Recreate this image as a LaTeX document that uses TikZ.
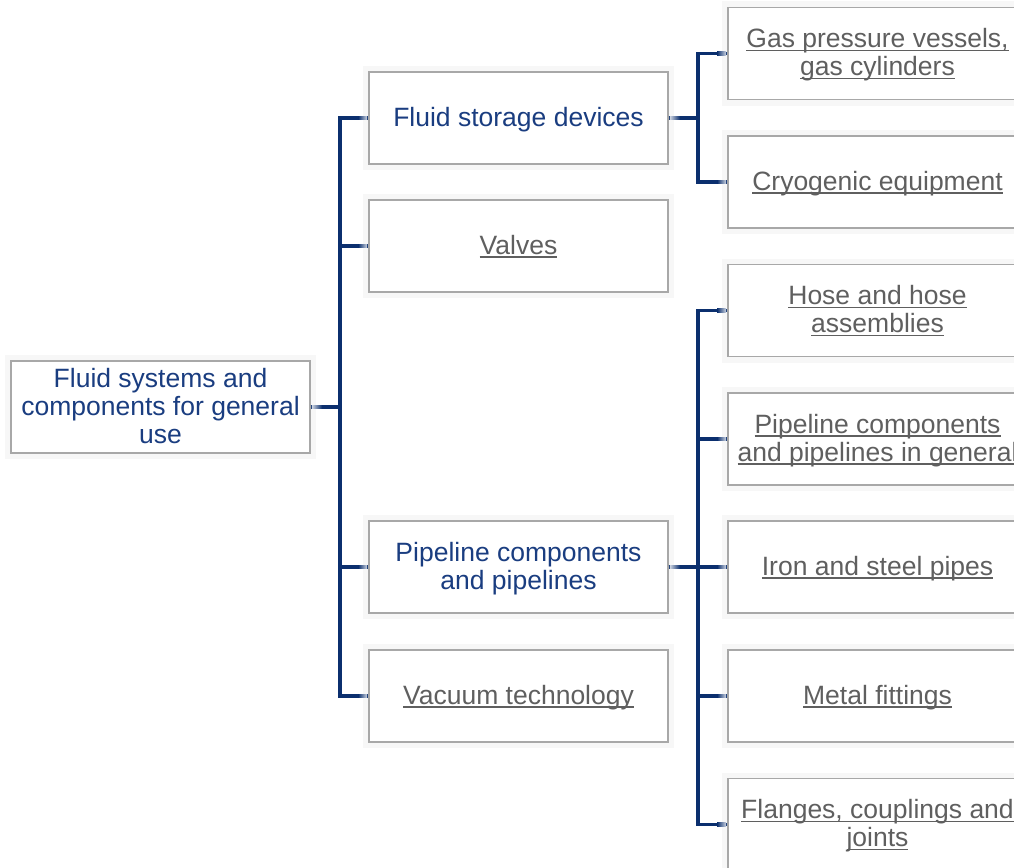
\documentclass[tikz,border=0pt]{standalone}
\usepackage{fontspec}
\setmainfont{Liberation Sans}
\definecolor{navy}{HTML}{0B2F6E}
\definecolor{tblue}{HTML}{1A3D80}
\definecolor{tgrey}{HTML}{5F5F5F}
\definecolor{bordergrey}{HTML}{A8A8A8}
\newcommand{\ulx}[1]{\setbox0\hbox{#1}\rlap{\rule[-3.6pt]{\wd0}{1.3pt}}\box0}
\newcommand{\tx}[1]{\raisebox{-2.5pt}[\height][\depth]{\begin{tabular}{@{}c@{}}#1\end{tabular}}}
\tikzset{
  box/.style={rectangle, draw=bordergrey, line width=1.8pt, fill=white,
    preaction={draw=black!3, line width=12pt},
    minimum width=299pt, minimum height=92pt, inner sep=0pt, align=center,
    font=\fontsize{26.5}{28}\selectfont},
  bluebox/.style={box, text=tblue},
  greybox/.style={box, text=tgrey},
  conn/.style={draw=navy, line width=3.5pt, line join=miter},
  fadein/.style={left color=navy, right color=navy!20},
  fadeout/.style={left color=navy!20, right color=navy},
}
\begin{document}
\begin{tikzpicture}[x=1pt,y=-1pt]
\clip (0,0) rectangle (1014,867);
\fill[white] (0,0) rectangle (1014,867);
% nodes
\node[bluebox] (root) at (160.5,407) {\tx{Fluid systems and\\components for general\\use}};
\node[bluebox] (fsd) at (518.5,118) {\tx{Fluid storage devices}};
\node[greybox] (valves) at (518.5,246) {\tx{\ulx{Valves}}};
\node[bluebox] (pcp) at (518.5,567) {\tx{Pipeline components\\and pipelines}};
\node[greybox] (vac) at (518.5,696) {\tx{\ulx{Vacuum technology}}};
\node[greybox] (gas) at (877.5,53.5) {\tx{\ulx{Gas pressure vessels,}\\\ulx{gas cylinders}}};
\node[greybox] (cryo) at (877.5,182) {\tx{\ulx{Cryogenic equipment}}};
\node[greybox] (hose) at (877.5,310.5) {\tx{\ulx{Hose and hose}\\\ulx{assemblies}}};
\node[greybox] (pcg) at (877.5,439) {\tx{\ulx{Pipeline components}\\\ulx{and pipelines in general}}};
\node[greybox] (iron) at (877.5,567) {\tx{\ulx{Iron and steel pipes}}};
\node[greybox] (metal) at (877.5,696) {\tx{\ulx{Metal fittings}}};
\node[greybox] (flange) at (877.5,824.5) {\tx{\ulx{Flanges, couplings and}\\\ulx{joints}}};
% connectors level 1
\foreach \c in {fsd,valves,pcp,vac}{
  \draw[conn] (root.east) -- ([xshift=29pt]root.east) |- (\c.west);
  \shade[fadein] ([xshift=-10pt,yshift=-1.75pt]\c.west) rectangle ([xshift=-0.9pt,yshift=1.75pt]\c.west);
}
\shade[fadeout] ([xshift=0.9pt,yshift=-1.75pt]root.east) rectangle ([xshift=11pt,yshift=1.75pt]root.east);
% connectors level 2
\foreach \c in {gas,cryo}{
  \draw[conn] (fsd.east) -- ([xshift=29pt]fsd.east) |- (\c.west);
  \shade[fadein] ([xshift=-10pt,yshift=-1.75pt]\c.west) rectangle ([xshift=-0.9pt,yshift=1.75pt]\c.west);
}
\shade[fadeout] ([xshift=0.9pt,yshift=-1.75pt]fsd.east) rectangle ([xshift=11pt,yshift=1.75pt]fsd.east);
\foreach \c in {hose,pcg,iron,metal,flange}{
  \draw[conn] (pcp.east) -- ([xshift=29pt]pcp.east) |- (\c.west);
  \shade[fadein] ([xshift=-10pt,yshift=-1.75pt]\c.west) rectangle ([xshift=-0.9pt,yshift=1.75pt]\c.west);
}
\shade[fadeout] ([xshift=0.9pt,yshift=-1.75pt]pcp.east) rectangle ([xshift=11pt,yshift=1.75pt]pcp.east);
\end{tikzpicture}
\end{document}
